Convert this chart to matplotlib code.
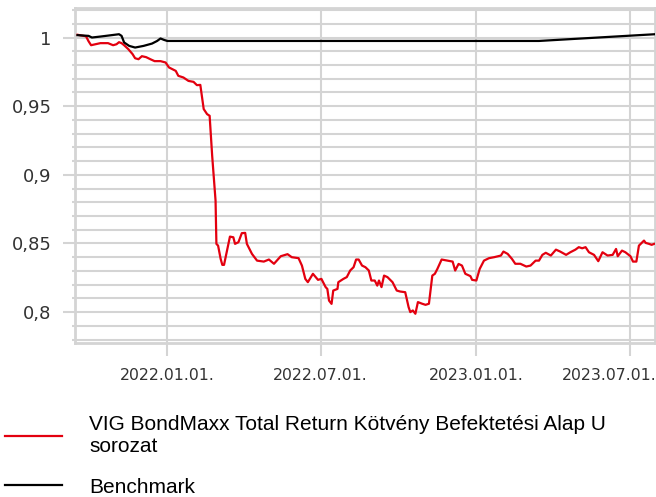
import matplotlib
matplotlib.use("Agg")
import matplotlib.pyplot as plt
import matplotlib.dates as mdates
from matplotlib.ticker import FixedLocator, FuncFormatter, MultipleLocator
from matplotlib.transforms import ScaledTranslation
import pandas as pd

fund_dates = [
    "2021-09-17", "2021-09-27", "2021-09-30", "2021-10-03", "2021-10-08", "2021-10-14",
    "2021-10-23", "2021-10-29", "2021-11-02", "2021-11-05", "2021-11-08", "2021-11-11",
    "2021-11-16", "2021-11-21", "2021-11-24", "2021-11-28", "2021-12-02", "2021-12-07",
    "2021-12-12", "2021-12-17", "2021-12-24", "2021-12-30", "2022-01-03", "2022-01-11",
    "2022-01-14", "2022-01-20", "2022-01-26", "2022-02-01", "2022-02-05", "2022-02-09",
    "2022-02-13", "2022-02-17", "2022-02-20", "2022-02-23", "2022-02-27", "2022-02-28",
    "2022-03-02", "2022-03-05", "2022-03-07", "2022-03-09", "2022-03-16", "2022-03-20",
    "2022-03-22", "2022-03-26", "2022-03-30", "2022-04-03", "2022-04-05", "2022-04-11",
    "2022-04-17", "2022-04-25", "2022-05-01", "2022-05-07", "2022-05-15", "2022-05-23",
    "2022-05-28", "2022-06-05", "2022-06-09", "2022-06-13", "2022-06-16", "2022-06-22",
    "2022-06-28", "2022-07-02", "2022-07-07", "2022-07-09", "2022-07-11", "2022-07-14",
    "2022-07-16", "2022-07-21", "2022-07-22", "2022-07-28", "2022-08-01", "2022-08-05",
    "2022-08-09", "2022-08-12", "2022-08-15", "2022-08-19", "2022-08-23", "2022-08-27",
    "2022-08-30", "2022-09-03", "2022-09-06", "2022-09-08", "2022-09-11", "2022-09-14",
    "2022-09-18", "2022-09-24", "2022-09-29", "2022-10-03", "2022-10-09", "2022-10-13",
    "2022-10-15", "2022-10-18", "2022-10-21", "2022-10-24", "2022-10-29", "2022-11-02",
    "2022-11-06", "2022-11-10", "2022-11-13", "2022-11-16", "2022-11-21", "2022-11-28",
    "2022-12-04", "2022-12-07", "2022-12-11", "2022-12-15", "2022-12-19", "2022-12-25",
    "2022-12-27", "2023-01-01", "2023-01-05", "2023-01-10", "2023-01-16", "2023-01-22",
    "2023-01-30", "2023-02-02", "2023-02-07", "2023-02-12", "2023-02-16", "2023-02-22",
    "2023-03-01", "2023-03-06", "2023-03-12", "2023-03-16", "2023-03-20", "2023-03-24",
    "2023-03-30", "2023-04-05", "2023-04-10", "2023-04-17", "2023-04-22", "2023-04-28",
    "2023-05-02", "2023-05-06", "2023-05-10", "2023-05-14", "2023-05-20", "2023-05-25",
    "2023-05-30", "2023-06-05", "2023-06-11", "2023-06-15", "2023-06-17", "2023-06-22",
    "2023-06-26", "2023-07-02", "2023-07-05", "2023-07-09", "2023-07-12", "2023-07-18",
    "2023-07-20", "2023-07-24", "2023-07-27", "2023-07-30",
]
fund_values = [
    1.0020, 1.0009, 0.9973, 0.9944, 0.9951, 0.9959,
    0.9959, 0.9944, 0.9951, 0.9966, 0.9959, 0.9944,
    0.9915, 0.9879, 0.9849, 0.9842, 0.9864, 0.9857,
    0.9842, 0.9828, 0.9828, 0.9818, 0.9782, 0.9757,
    0.9721, 0.9709, 0.9684, 0.9677, 0.9653, 0.9655,
    0.9479, 0.9442, 0.9430, 0.9139, 0.8812, 0.8497,
    0.8484, 0.8388, 0.8344, 0.8344, 0.8550, 0.8545,
    0.8497, 0.8509, 0.8575, 0.8577, 0.8497, 0.8424,
    0.8375, 0.8368, 0.8383, 0.8352, 0.8407, 0.8422,
    0.8400, 0.8393, 0.8339, 0.8242, 0.8218, 0.8279,
    0.8235, 0.8242, 0.8182, 0.8169, 0.8084, 0.8060,
    0.8157, 0.8169, 0.8218, 0.8242, 0.8255, 0.8303,
    0.8327, 0.8383, 0.8383, 0.8339, 0.8327, 0.8303,
    0.8230, 0.8230, 0.8193, 0.8230, 0.8182, 0.8266,
    0.8255, 0.8218, 0.8157, 0.8150, 0.8145, 0.8036,
    0.8000, 0.8012, 0.7988, 0.8073, 0.8061, 0.8053,
    0.8061, 0.8266, 0.8279, 0.8315, 0.8383, 0.8375,
    0.8368, 0.8303, 0.8351, 0.8339, 0.8279, 0.8262,
    0.8235, 0.8230, 0.8315, 0.8375, 0.8393, 0.8400,
    0.8412, 0.8441, 0.8424, 0.8388, 0.8352, 0.8352,
    0.8332, 0.8339, 0.8375, 0.8375, 0.8417, 0.8432,
    0.8412, 0.8455, 0.8441, 0.8417, 0.8436, 0.8455,
    0.8473, 0.8465, 0.8473, 0.8436, 0.8417, 0.8371,
    0.8436, 0.8412, 0.8417, 0.8460, 0.8407, 0.8448,
    0.8436, 0.8407, 0.8368, 0.8368, 0.8484, 0.8521,
    0.8504, 0.8497, 0.8490, 0.8497,
]

bench_dates = [
    "2021-09-17", "2021-09-30", "2021-10-04", "2021-10-14", "2021-11-05", "2021-11-08",
    "2021-11-11", "2021-11-17", "2021-11-24", "2021-12-04", "2021-12-14", "2021-12-20",
    "2021-12-24", "2021-12-28", "2022-01-01", "2023-03-16", "2023-07-31",
]
bench_values = [
    1.0017, 1.0012, 1.0000, 1.0007, 1.0024, 1.0012,
    0.9964, 0.9939, 0.9927, 0.9939, 0.9956, 0.9975,
    0.9993, 0.9983, 0.9975, 0.9975, 1.0024,
]

fund_label = "VIG BondMaxx Total Return Kötvény Befektetési Alap U\nsorozat"
bench_label = "Benchmark"
x_ticks = ["2022-01-01", "2022-07-01", "2023-01-01", "2023-07-01"]
y_ticks = [0.8, 0.85, 0.9, 0.95, 1.0]

RED = "#e3000f"
GRID = "#d4d4d4"
TXT = "#333333"

fig = plt.figure(figsize=(6.56, 4.97), dpi=100)
ax = fig.add_axes([75 / 656, 154 / 497, 580 / 656, 335 / 497])

fd = pd.to_datetime(fund_dates)
bd = pd.to_datetime(bench_dates)
l1, = ax.plot(fd, fund_values, color=RED, lw=1.6, label=fund_label, zorder=3)
l2, = ax.plot(bd, bench_values, color="black", lw=1.6, label=bench_label, zorder=3)

ax.set_xlim(pd.Timestamp("2021-09-14"), pd.Timestamp("2023-07-31"))
ax.set_ylim(0.7775, 1.0215)

ax.xaxis.set_major_locator(FixedLocator(mdates.date2num(pd.to_datetime(x_ticks))))
ax.xaxis.set_major_formatter(mdates.DateFormatter("%Y.%m.%d."))
ax.yaxis.set_major_locator(FixedLocator(y_ticks))
ax.yaxis.set_minor_locator(MultipleLocator(0.01))
ax.yaxis.set_major_formatter(FuncFormatter(lambda v, p: f"{v:g}".replace(".", ",")))

ax.grid(True, which="major", axis="both", color=GRID, lw=1.5, zorder=0)
ax.grid(True, which="minor", axis="y", color=GRID, lw=1.5, zorder=0)
ax.set_axisbelow(True)
for s in ax.spines.values():
    s.set_color(GRID)
    s.set_linewidth(2)

ax.tick_params(axis="y", which="major", length=9, width=1.5, color=GRID, labelsize=13, labelcolor=TXT, pad=8)
ax.tick_params(axis="y", which="minor", length=2.5, width=1.5, color=GRID)
ax.tick_params(axis="x", which="major", length=9, width=1.5, color=GRID, labelsize=11.3, labelcolor=TXT, pad=9)

fig.canvas.draw()
last = ax.xaxis.get_major_ticks()[-1].label1
last.set_horizontalalignment("right")
last.set_transform(last.get_transform() + ScaledTranslation(27 / 100, 0, fig.dpi_scale_trans))

fig.legend(handles=[l1, l2], loc="upper left", bbox_to_anchor=(-0.005, 0.182),
           frameon=False, prop={"family": "Liberation Sans", "size": 15},
           handlelength=2.75, handletextpad=1.3, labelspacing=1.05, borderaxespad=0)

fig.savefig("out.png", dpi=100)
